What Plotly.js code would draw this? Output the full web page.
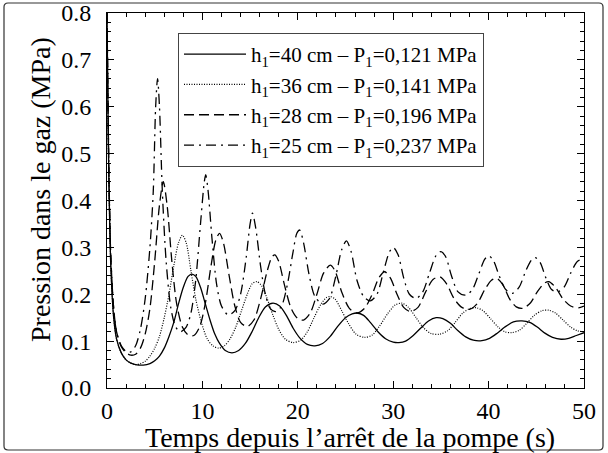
<!DOCTYPE html>
<html>
<head>
<meta charset="utf-8">
<script src="https://cdn.plot.ly/plotly-3.0.1.min.js"></script>
<style>html,body{margin:0;padding:0;background:#fff;}#chart{width:608px;height:453px;}</style>
</head>
<body>
<div id="chart"></div>
<script>
// ---- data ----
const seriesNames = [
  "h<sub>1</sub>=40 cm \u2013 P<sub>1</sub>=0,121 MPa",
  "h<sub>1</sub>=36 cm \u2013 P<sub>1</sub>=0,141 MPa",
  "h<sub>1</sub>=28 cm \u2013 P<sub>1</sub>=0,196 MPa",
  "h<sub>1</sub>=25 cm \u2013 P<sub>1</sub>=0,237 MPa"
];

const t40 = [0,0.1,0.2,0.4,0.7,1.0,1.5,2.0,2.5,3.0,3.8,4.5,5.0,5.5,6.0,6.5,7.0,7.5,8.0,8.5,8.9,9.3,9.8,10.3,10.8,11.3,11.8,12.4,13.1,13.8,14.5,15.2,15.9,16.6,17.4,18.1,18.8,19.5,20.2,21.0,21.8,22.6,23.4,24.2,25.0,25.7,26.2,26.9,27.6,28.4,29.2,30.0,30.6,31.3,32.1,32.9,33.7,34.5,35.2,36.0,36.8,37.6,38.4,39.3,40.1,40.9,41.7,42.6,43.5,44.3,45.1,45.9,46.7,47.6,48.4,49.2,50];
const p40 = [0.80,0.60,0.44,0.26,0.15,0.105,0.075,0.060,0.053,0.050,0.049,0.052,0.058,0.068,0.085,0.110,0.140,0.180,0.215,0.238,0.243,0.238,0.215,0.180,0.145,0.115,0.095,0.080,0.075,0.080,0.095,0.120,0.150,0.173,0.181,0.175,0.155,0.128,0.107,0.093,0.090,0.095,0.110,0.132,0.150,0.158,0.160,0.155,0.140,0.120,0.105,0.098,0.097,0.100,0.112,0.128,0.143,0.150,0.148,0.138,0.122,0.109,0.102,0.101,0.106,0.117,0.130,0.141,0.143,0.140,0.130,0.117,0.108,0.104,0.106,0.112,0.118];

const t36 = [0,0.1,0.2,0.4,0.7,1.0,1.5,2.0,2.5,3.0,3.5,4.0,4.5,5.0,5.5,6.0,6.5,7.0,7.5,7.9,8.3,8.8,9.3,9.9,10.5,11.1,11.7,12.3,12.9,13.5,14.1,14.7,15.2,15.7,16.2,16.8,17.4,18.0,18.7,19.5,20.3,21.0,21.7,22.4,23.0,23.4,23.9,24.6,25.3,26.1,27.0,27.8,28.6,29.4,30.2,30.9,31.6,32.4,33.2,34.0,34.9,35.7,36.5,37.3,38.1,38.75,39.4,40.2,41.0,41.7,42.4,43.2,44.0,44.8,45.6,46.3,47.0,47.8,48.6,49.3,50];
const p36 = [0.80,0.60,0.44,0.26,0.15,0.105,0.075,0.060,0.053,0.050,0.052,0.057,0.068,0.085,0.110,0.150,0.200,0.260,0.310,0.326,0.310,0.250,0.190,0.140,0.105,0.090,0.085,0.090,0.105,0.130,0.165,0.200,0.222,0.227,0.218,0.190,0.155,0.125,0.104,0.097,0.102,0.120,0.150,0.178,0.193,0.195,0.190,0.165,0.138,0.115,0.108,0.113,0.133,0.158,0.177,0.181,0.172,0.150,0.128,0.116,0.115,0.122,0.140,0.160,0.170,0.171,0.165,0.148,0.130,0.120,0.118,0.123,0.138,0.155,0.165,0.166,0.160,0.145,0.130,0.122,0.120];

const t28 = [0,0.1,0.2,0.4,0.7,1.0,1.5,2.0,2.5,3.0,3.5,4.0,4.5,5.0,5.5,5.9,6.3,6.8,7.3,7.9,8.5,9.1,9.7,10.3,10.9,11.4,11.8,12.2,12.8,13.4,14.0,14.7,15.4,16.1,16.8,17.3,17.6,18.0,18.6,19.3,20.0,20.6,21.3,22.0,22.7,23.4,23.9,24.6,25.4,26.2,27.0,27.8,28.5,29.1,29.7,30.4,31.1,31.8,32.6,33.4,34.2,34.9,35.6,36.4,37.2,38.0,38.8,39.6,40.3,40.85,41.5,42.2,42.9,43.6,44.4,45.1,45.8,46.3,47.0,47.8,48.6,49.4,50];
const p28 = [0.80,0.62,0.46,0.28,0.17,0.12,0.088,0.075,0.070,0.072,0.085,0.115,0.170,0.270,0.390,0.440,0.390,0.270,0.180,0.130,0.113,0.112,0.130,0.180,0.260,0.315,0.330,0.310,0.240,0.175,0.140,0.131,0.145,0.190,0.250,0.280,0.284,0.270,0.220,0.170,0.148,0.145,0.160,0.200,0.245,0.262,0.250,0.205,0.170,0.160,0.170,0.200,0.235,0.248,0.235,0.200,0.172,0.163,0.172,0.205,0.232,0.237,0.222,0.190,0.172,0.168,0.180,0.210,0.230,0.234,0.220,0.190,0.173,0.170,0.182,0.205,0.223,0.227,0.215,0.190,0.175,0.171,0.175];

const t25 = [0,0.1,0.2,0.4,0.7,1.0,1.5,2.0,2.5,3.0,3.5,4.0,4.5,4.85,5.1,5.3,5.5,5.8,6.2,6.7,7.2,7.7,8.3,8.8,9.3,9.8,10.2,10.35,10.6,11.0,11.5,12.0,12.7,13.4,14.0,14.6,15.0,15.25,15.6,16.1,16.6,17.1,17.7,18.3,18.9,19.5,19.9,20.2,20.6,21.2,21.8,22.6,23.3,24.0,24.6,25.1,25.6,26.2,26.9,27.6,28.3,29.0,29.6,30.0,30.5,31.1,31.7,32.4,33.1,33.8,34.5,35.0,35.5,36.1,36.8,37.6,38.3,39.0,39.6,40.0,40.5,41.1,41.8,42.5,43.2,43.9,44.5,44.9,45.4,46.0,46.6,47.2,47.9,48.6,49.3,50];
const p25 = [0.80,0.62,0.46,0.28,0.17,0.12,0.090,0.078,0.077,0.090,0.125,0.190,0.300,0.420,0.600,0.660,0.600,0.420,0.270,0.170,0.130,0.120,0.130,0.160,0.230,0.350,0.440,0.455,0.420,0.320,0.220,0.175,0.156,0.165,0.200,0.280,0.350,0.373,0.340,0.260,0.200,0.170,0.163,0.175,0.220,0.290,0.330,0.337,0.310,0.240,0.195,0.179,0.190,0.240,0.295,0.314,0.290,0.230,0.195,0.186,0.200,0.250,0.290,0.300,0.285,0.235,0.200,0.191,0.205,0.245,0.283,0.291,0.280,0.240,0.205,0.198,0.210,0.245,0.275,0.282,0.272,0.240,0.210,0.202,0.215,0.250,0.273,0.278,0.268,0.235,0.210,0.205,0.215,0.245,0.270,0.277];

const xTitle = "Temps depuis l\u2019arr\u00eat de la pompe (s)";
const yTitle = "Pression dans le gaz (MPa)";

// ---- drawing ----
const serif = "Liberation Serif";
const styles = [
  {dash: "solid", width: 1.3},
  {dash: "1px,1.5px", width: 1.2},
  {dash: "10px,5px", width: 1.3},
  {dash: "10px,5px,2px,5px", width: 1.3}
];
const xs = [t40, t36, t28, t25];
const ys = [p40, p36, p28, p25];
const traces = xs.map((x, i) => ({
  x: x, y: ys[i], type: "scatter", mode: "lines", name: seriesNames[i],
  line: {color: "#000", width: styles[i].width, dash: styles[i].dash, shape: "spline", smoothing: 0.8}
}));

// plot area: x 107..584, y 13..388
const L = 107, R = 584, T = 13, B = 388, W = 608, H = 453;
const px = v => (v - L) / (R - L);
const py = v => (B - v) / (B - T);

const axisCommon = {
  showline: true, linecolor: "#000", linewidth: 1, mirror: "allticks",
  ticks: "inside", ticklen: 7, tickcolor: "#000", tickwidth: 1,
  showgrid: false, zeroline: false,
  tickfont: {family: serif, size: 24, color: "#000"}
};

const layout = {
  width: W, height: H,
  font: {family: serif, color: "#000"},
  margin: {l: L, r: W - R, t: T, b: H - B},
  paper_bgcolor: "#fff", plot_bgcolor: "#fff",
  showlegend: true,
  legend: {
    x: px(178), y: py(33), xanchor: "left", yanchor: "top",
    bgcolor: "#fff", bordercolor: "#444", borderwidth: 1,
    font: {family: serif, size: 21, color: "#000"},
    itemwidth: 62, tracegroupgap: 0
  },
  xaxis: Object.assign({}, axisCommon, {
    range: [0, 50], dtick: 10, tick0: 0, ticklabelstandoff: 1,
    minor: {dtick: 2, ticks: "inside", ticklen: 4, tickcolor: "#000"}
  }),
  yaxis: Object.assign({}, axisCommon, {
    range: [0, 0.8], dtick: 0.1, tick0: 0, tickformat: ".1f", ticklabelstandoff: 10,
    minor: {dtick: 0.02, ticks: "inside", ticklen: 4, tickcolor: "#000"}
  }),
  annotations: [
    {text: xTitle, xref: "paper", yref: "paper", x: px(350), y: py(437), xanchor: "center", yanchor: "middle",
     showarrow: false, font: {family: serif, size: 28, color: "#000"}},
    {text: yTitle, xref: "paper", yref: "paper", x: px(40), y: py(190), xanchor: "center", yanchor: "middle",
     textangle: -90, showarrow: false, font: {family: serif, size: 28, color: "#000"}}
  ],
  shapes: [
    {type: "path", xref: "paper", yref: "paper",
     path: `M ${px(8)},${py(3)} L ${px(599)},${py(3)} Q ${px(603)},${py(3)} ${px(603)},${py(7)} L ${px(603)},${py(446)} Q ${px(603)},${py(450)} ${px(599)},${py(450)} L ${px(8)},${py(450)} Q ${px(4)},${py(450)} ${px(4)},${py(446)} L ${px(4)},${py(7)} Q ${px(4)},${py(3)} ${px(8)},${py(3)} Z`,
     line: {color: "#333", width: 1.2}, layer: "below"}
  ]
};

Plotly.newPlot("chart", traces, layout, {displayModeBar: false, staticPlot: true});
</script>
</body>
</html>
